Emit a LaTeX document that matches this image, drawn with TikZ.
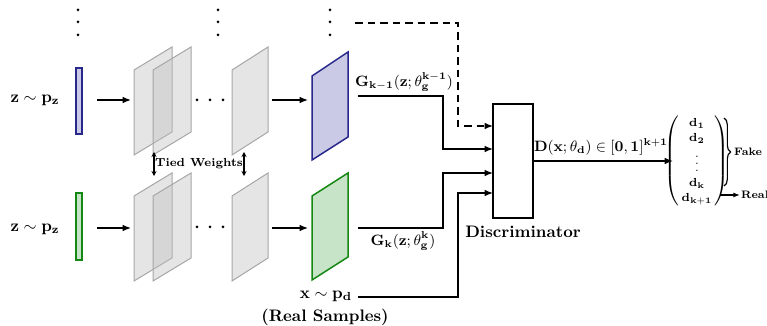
\documentclass[tikz,border=0pt]{standalone}
\usetikzlibrary{arrows.meta,decorations.pathreplacing}
\definecolor{navy}{RGB}{40,40,140}
\definecolor{lav}{RGB}{202,202,230}
\definecolor{dgreen}{RGB}{20,135,20}
\definecolor{lgreen}{RGB}{200,228,200}
\begin{document}
\begin{tikzpicture}[x=0.6pt,y=-0.6pt,
  conn/.style={line width=0.8pt,-{Latex[length=5pt,width=4pt]}},
  plane/.style={draw=black!35,fill=black!25,fill opacity=0.4,line width=0.6pt},
  lbl/.style={font=\bfseries},
  dot/.style={circle,fill=black,inner sep=0pt,minimum size=1.8pt},
  tied/.style={line width=0.8pt,{Stealth[length=3pt,width=3pt]}-{Stealth[length=3pt,width=3pt]}},
  side/.style={font=\fontsize{6.5}{7}\selectfont\bfseries,anchor=west,inner sep=0.5pt}
]
\useasboundingbox (0,0) rectangle (767,326);

% vertical dots at top
\foreach \x in {78,218,330}
  \foreach \y in {10,22,35}
    \node[dot] at (\x,\y) {};

% ---------- top row ----------
\node[lbl] (z1) at (35,100) {$\mathbf{z}\sim\mathbf{p_z}$};
\node[draw=navy,fill=lav,line width=0.9pt,inner sep=0pt,minimum width=3.6pt,minimum height=39.6pt] (bar1) at (79,101) {};
\coordinate (a1s) at (97,100);
\coordinate (a1e) at (131,100);
\draw[conn] (a1s) -- (a1e);
\draw[plane] (134,70) -- (172,47) -- (172,132) -- (134,155) -- cycle;
\draw[plane] (153,70) -- (191,47) -- (191,132) -- (153,155) -- cycle;
\foreach \x in {197,210,223} \node[dot] at (\x,100) {};
\draw[plane] (232,70) -- (268,47) -- (268,132) -- (232,155) -- cycle;
\coordinate (a2s) at (272,100);
\coordinate (a2e) at (308,100);
\draw[conn] (a2s) -- (a2e);
\draw[draw=navy,fill=lav,line width=0.9pt] (312,76) -- (348,52) -- (348,137) -- (312,160) -- cycle;

% ---------- bottom row ----------
\node[lbl] (z2) at (35,229) {$\mathbf{z}\sim\mathbf{p_z}$};
\node[draw=dgreen,fill=lgreen,line width=0.9pt,inner sep=0pt,minimum width=3.6pt,minimum height=40.2pt] (bar2) at (79,226.5) {};
\coordinate (b1s) at (97,228);
\coordinate (b1e) at (131,228);
\draw[conn] (b1s) -- (b1e);
\draw[plane] (134,196) -- (172,173) -- (172,258) -- (134,281) -- cycle;
\draw[plane] (153,196) -- (191,173) -- (191,258) -- (153,281) -- cycle;
\foreach \x in {197,210,223} \node[dot] at (\x,227) {};
\draw[plane] (232,196) -- (268,173) -- (268,258) -- (232,281) -- cycle;
\coordinate (b2s) at (272,228);
\coordinate (b2e) at (308,228);
\draw[conn] (b2s) -- (b2e);
\draw[draw=dgreen,fill=lgreen,line width=0.9pt] (312,196) -- (348,173) -- (348,257) -- (312,280) -- cycle;

% tied weights
\coordinate (t1a) at (154,152); \coordinate (t1b) at (154,176);
\coordinate (t2a) at (244,152); \coordinate (t2b) at (244,176);
\draw[tied] (t1a) -- (t1b);
\draw[tied] (t2a) -- (t2b);
\node[font=\scriptsize\bfseries] (tw) at (199,164) {Tied Weights};

% discriminator
\node[draw,line width=1.1pt,minimum width=24pt,minimum height=68.4pt,inner sep=0pt] (disc) at (513,161) {};
\node[lbl] (disclbl) at (523,232) {Discriminator};
\coordinate (in0) at (493,126);
\coordinate (in1) at (493,149);
\coordinate (in2) at (493,173);
\coordinate (in3) at (493,193);

% dashed input
\coordinate (ds) at (355,23);
\draw[conn,dashed,dash pattern=on 4.5pt off 3pt] (ds) -- (458,23) -- (458,126) -- (in0);

% G_{k-1}
\coordinate (g1) at (358,96);
\node[font=\small] (g1lbl) at (404,82) {$\mathbf{G_{k-1}}(\mathbf{z};\theta_{\mathbf{g}}^{\mathbf{k-1}})$};
\draw[conn] (g1) -- (443,96) |- (in1);

% G_k
\coordinate (g2) at (358,228);
\node[font=\small] (g2lbl) at (403,241) {$\mathbf{G_{k}}(\mathbf{z};\theta_{\mathbf{g}}^{\mathbf{k}})$};
\draw[conn] (g2) -- (443,228) |- (in2);

% real samples
\node (xlbl) at (326,296) {$\mathbf{x}\sim\mathbf{p_d}$};
\node[lbl] (rs) at (325,317) {(Real Samples)};
\coordinate (r1) at (358,297);
\draw[conn] (r1) -- (458,297) |- (in3);

% output
\coordinate (oute) at (673,161);
\draw[conn] (disc.east) -- (oute);
\node[font=\small] (dlbl) at (601,147) {$\mathbf{D}(\mathbf{x};\theta_{\mathbf{d}})\in[\mathbf{0},\mathbf{1}]^{\mathbf{k+1}}$};

\node[font=\scriptsize,inner sep=0pt] (vec) at (697,161)
  {$\renewcommand{\arraystretch}{1.15}\left(\begin{array}{@{\,}c@{\,}}\mathbf{d_1}\\ \mathbf{d_2}\\ \vdots\\ \mathbf{d_k}\\ \mathbf{d_{k+1}}\end{array}\right)$};
\coordinate (br1) at (724,118);
\coordinate (br2) at (724,186);
\draw[line width=0.7pt,decorate,decoration={brace,amplitude=4pt}] (br1) -- (br2);
\node[side] (fake) at (733,152) {Fake};
\coordinate (rs1) at (720,195);
\node[side] (real) at (740,195) {Real};
\draw[line width=0.7pt,-{Latex[length=4pt,width=3pt]}] (rs1) -- (real.west);
\end{tikzpicture}
\end{document}
